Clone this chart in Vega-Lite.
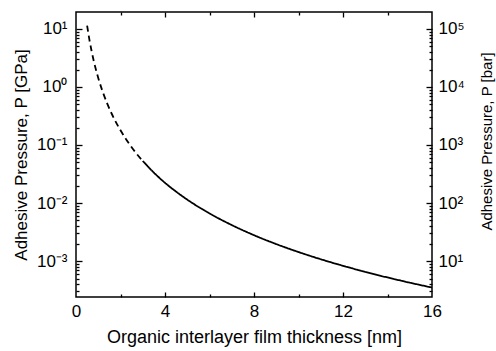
{
  "$schema": "https://vega.github.io/schema/vega-lite/v6.json",
  "width": 356,
  "height": 285,
  "autosize": "none",
  "padding": {"left": 76, "top": 12, "right": 64, "bottom": 54},
  "background": "white",
  "config": {
    "view": {"stroke": "#000", "strokeWidth": 1.5},
    "axis": {
      "grid": false,
      "domain": false,
      "labelFont": "Liberation Sans",
      "titleFont": "Liberation Sans",
      "labelColor": "#000",
      "titleColor": "#000",
      "tickColor": "#000",
      "labelFontSize": 17,
      "titleFontSize": 17,
      "titleFontWeight": "normal",
      "tickWidth": 1.3
    }
  },
  "data": {
    "values": [
      {"d": 0.5, "P": 11.44, "seg": "dashed"},
      {"d": 0.6, "P": 6.62, "seg": "dashed"},
      {"d": 0.7, "P": 4.17, "seg": "dashed"},
      {"d": 0.8, "P": 2.79, "seg": "dashed"},
      {"d": 0.9, "P": 1.96, "seg": "dashed"},
      {"d": 1.0, "P": 1.43, "seg": "dashed"},
      {"d": 1.2, "P": 0.828, "seg": "dashed"},
      {"d": 1.4, "P": 0.521, "seg": "dashed"},
      {"d": 1.6, "P": 0.349, "seg": "dashed"},
      {"d": 1.8, "P": 0.245, "seg": "dashed"},
      {"d": 2.0, "P": 0.179, "seg": "dashed"},
      {"d": 2.25, "P": 0.1255, "seg": "dashed"},
      {"d": 2.5, "P": 0.0915, "seg": "dashed"},
      {"d": 2.75, "P": 0.0687, "seg": "dashed"},
      {"d": 3.0, "P": 0.053, "seg": "dashed"},
      {"d": 3.0, "P": 0.053, "seg": "solid"},
      {"d": 3.5, "P": 0.0334, "seg": "solid"},
      {"d": 4.0, "P": 0.0223, "seg": "solid"},
      {"d": 4.5, "P": 0.0157, "seg": "solid"},
      {"d": 5.0, "P": 0.01144, "seg": "solid"},
      {"d": 6.0, "P": 0.00662, "seg": "solid"},
      {"d": 7.0, "P": 0.00417, "seg": "solid"},
      {"d": 8.0, "P": 0.00279, "seg": "solid"},
      {"d": 9.0, "P": 0.00196, "seg": "solid"},
      {"d": 10.0, "P": 0.00143, "seg": "solid"},
      {"d": 11.0, "P": 0.001074, "seg": "solid"},
      {"d": 12.0, "P": 0.000828, "seg": "solid"},
      {"d": 13.0, "P": 0.000651, "seg": "solid"},
      {"d": 14.0, "P": 0.000521, "seg": "solid"},
      {"d": 15.0, "P": 0.000424, "seg": "solid"},
      {"d": 16.0, "P": 0.000349, "seg": "solid"}
    ]
  },
  "layer": [
    {
      "mark": {"type": "line", "color": "#000", "strokeWidth": 1.8, "interpolate": "monotone", "clip": true},
      "encoding": {
        "x": {"field": "d", "type": "quantitative", "scale": {"domain": [0, 16], "nice": false},
          "axis": {"orient": "bottom", "values": [0, 4, 8, 12, 16], "ticks": false, "labelPadding": 6, "title": "Organic interlayer film thickness [nm]", "titleFontSize": 18, "titlePadding": 9, "labelFlush": false}},
        "y": {"field": "P", "type": "quantitative", "scale": {"type": "log", "domain": [0.00024, 19.6], "nice": false},
          "axis": {"orient": "left", "values": [0.001, 0.01, 0.1, 1, 10], "ticks": false, "labelPadding": 9, "title": "Adhesive Pressure, P [GPa]", "titlePadding": 6,
            "labelExpr": "datum.value < 0.005 ? '10⁻³' : datum.value < 0.05 ? '10⁻²' : datum.value < 0.5 ? '10⁻¹' : datum.value < 5 ? '10⁰' : '10¹'"}},
        "strokeDash": {"field": "seg", "type": "nominal", "scale": {"domain": ["dashed", "solid"], "range": [[6, 4], [1, 0]]}, "legend": null},
        "detail": {"field": "seg"}
      }
    },
    {
      "mark": {"type": "point", "opacity": 0},
      "encoding": {
        "x": {"field": "d", "type": "quantitative", "scale": {"domain": [0, 16], "nice": false},
          "axis": {"orient": "bottom", "values": [4, 8, 12], "offset": -5, "tickSize": 5, "labels": false, "title": null}},
        "y": {"field": "P", "type": "quantitative", "scale": {"type": "log", "domain": [0.00024, 19.6], "nice": false},
          "axis": {"orient": "left", "values": [0.001, 0.01, 0.1, 1, 10], "offset": -6, "tickSize": 6, "labels": false, "title": null}}
      }
    },
    {
      "mark": {"type": "point", "opacity": 0},
      "encoding": {
        "x": {"field": "d", "type": "quantitative", "scale": {"domain": [0, 16], "nice": false},
          "axis": {"orient": "bottom", "values": [2, 6, 10, 14], "offset": -3, "tickSize": 3, "labels": false, "title": null}},
        "y": {"field": "P", "type": "quantitative", "scale": {"type": "log", "domain": [0.00024, 19.6], "nice": false},
          "axis": {"orient": "left", "values": [0.0003, 0.0004, 0.0005, 0.0006, 0.0007, 0.0008, 0.0009, 0.002, 0.003, 0.004, 0.005, 0.006, 0.007, 0.008, 0.009, 0.02, 0.03, 0.04, 0.05, 0.06, 0.07, 0.08, 0.09, 0.2, 0.3, 0.4, 0.5, 0.6, 0.7, 0.8, 0.9, 2, 3, 4, 5, 6, 7, 8, 9], "offset": -3, "tickSize": 3, "labels": false, "title": null}}
      }
    },
    {
      "mark": {"type": "point", "opacity": 0},
      "encoding": {
        "x": {"field": "d", "type": "quantitative", "scale": {"domain": [0, 16], "nice": false},
          "axis": {"orient": "top", "values": [4, 8, 12], "offset": -5, "tickSize": 5, "labels": false, "title": null}},
        "y": {"field": "P", "type": "quantitative", "scale": {"type": "log", "domain": [0.00024, 19.6], "nice": false},
          "axis": {"orient": "right", "values": [0.001, 0.01, 0.1, 1, 10], "ticks": false, "labelPadding": 6, "title": "Adhesive Pressure, P [bar]", "titleFontSize": 15, "titlePadding": 15, "titleAngle": 270, "titleBaseline": "top", "titleY": 129,
            "labelExpr": "datum.value < 0.005 ? '10¹' : datum.value < 0.05 ? '10²' : datum.value < 0.5 ? '10³' : datum.value < 5 ? '10⁴' : '10⁵'"}}
      }
    },
    {
      "mark": {"type": "point", "opacity": 0},
      "encoding": {
        "x": {"field": "d", "type": "quantitative", "scale": {"domain": [0, 16], "nice": false},
          "axis": {"orient": "top", "values": [2, 6, 10, 14], "offset": -3, "tickSize": 3, "labels": false, "title": null}},
        "y": {"field": "P", "type": "quantitative", "scale": {"type": "log", "domain": [0.00024, 19.6], "nice": false},
          "axis": {"orient": "right", "values": [0.001, 0.01, 0.1, 1, 10], "offset": -6, "tickSize": 6, "labels": false, "title": null}}
      }
    },
    {
      "mark": {"type": "point", "opacity": 0},
      "encoding": {
        "x": {"field": "d", "type": "quantitative", "scale": {"domain": [0, 16], "nice": false}, "axis": null},
        "y": {"field": "P", "type": "quantitative", "scale": {"type": "log", "domain": [0.00024, 19.6], "nice": false},
          "axis": {"orient": "right", "values": [0.0003, 0.0004, 0.0005, 0.0006, 0.0007, 0.0008, 0.0009, 0.002, 0.003, 0.004, 0.005, 0.006, 0.007, 0.008, 0.009, 0.02, 0.03, 0.04, 0.05, 0.06, 0.07, 0.08, 0.09, 0.2, 0.3, 0.4, 0.5, 0.6, 0.7, 0.8, 0.9, 2, 3, 4, 5, 6, 7, 8, 9], "offset": -3, "tickSize": 3, "labels": false, "title": null}}
      }
    }
  ],
  "resolve": {"axis": {"x": "independent", "y": "independent"}}
}
